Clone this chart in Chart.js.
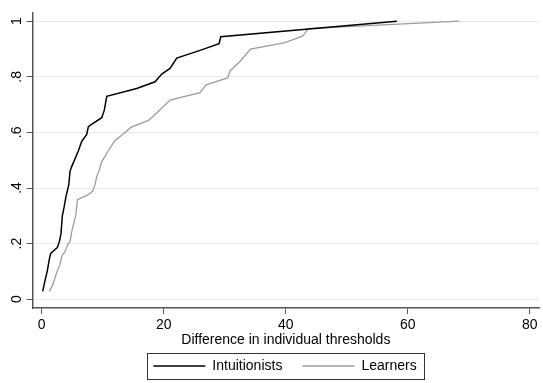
<!DOCTYPE html>
<html>
<head>
<meta charset="utf-8">
<script src="https://cdn.jsdelivr.net/npm/chart.js@4"></script>
<style>
  html, body { margin: 0; padding: 0; background: #fff; }
  canvas { display: block; }
</style>
</head>
<body>
<canvas id="cdfChart" width="543" height="383"></canvas>
<script>
// cumulative shares
const intuitX = [0.16, 0.54, 0.92, 1.25, 1.48, 2.18, 2.56, 2.89, 3.16, 3.38, 3.66, 3.98, 4.43, 4.64, 4.92, 6.0, 6.56, 7.38, 7.64, 7.92, 9.84, 10.26, 10.66, 15.57, 18.57, 19.67, 21.03, 22.13, 25.95, 29.07, 29.34, 58.2];
const intuitY = [0.028, 0.067, 0.102, 0.144, 0.165, 0.179, 0.186, 0.207, 0.235, 0.30, 0.33, 0.37, 0.41, 0.46, 0.477, 0.533, 0.568, 0.593, 0.62, 0.625, 0.653, 0.68, 0.73, 0.758, 0.782, 0.81, 0.83, 0.867, 0.895, 0.919, 0.944, 1.0];

const learnX = [1.25, 1.9, 2.18, 2.56, 3.0, 3.28, 3.82, 4.36, 4.64, 4.92, 5.3, 5.62, 5.84, 7.64, 8.36, 8.74, 9.02, 9.44, 9.84, 10.92, 11.9, 13.66, 14.59, 17.48, 18.85, 21.03, 25.95, 26.93, 30.46, 30.87, 32.51, 34.23, 39.89, 42.79, 43.7, 68.4];
const learnY = [0.028, 0.056, 0.078, 0.102, 0.126, 0.154, 0.172, 0.201, 0.207, 0.242, 0.277, 0.306, 0.358, 0.376, 0.389, 0.412, 0.442, 0.464, 0.495, 0.534, 0.568, 0.6, 0.618, 0.643, 0.67, 0.716, 0.743, 0.771, 0.796, 0.821, 0.856, 0.9, 0.923, 0.947, 0.973, 1.0];

const xTicks = [0, 20, 40, 60, 80];
const yTicks = [0, 0.2, 0.4, 0.6, 0.8, 1];
const yTickLabels = ['0', '.2', '.4', '.6', '.8', '1'];

const toPoints = (xs, ys) => xs.map((x, i) => ({ x: x, y: ys[i] }));

const font = { family: "'Liberation Sans', Arial, sans-serif", size: 14 };

// centre the legend under the plot region and draw a frame round it
const legendFrame = {
    id: 'legendFrame',
    afterLayout(chart) {
        const lg = chart.legend;
        if (!lg) return;
        lg.left = 31;
        lg.right = chart.chartArea.right;
        lg.width = lg.right - lg.left;
    },
    afterDraw(chart) {
        const boxes = chart.legend && chart.legend.legendHitBoxes;
        if (!boxes || !boxes.length) return;
        const first = boxes[0];
        const last = boxes[boxes.length - 1];
        const left = first.left - 6;
        const right = last.left + last.width + 8;
        const midY = first.top + first.height / 2;
        const ctx = chart.ctx;
        ctx.save();
        ctx.strokeStyle = '#333';
        ctx.lineWidth = 1;
        ctx.strokeRect(Math.round(left) + 0.5, Math.round(midY - 13) + 0.5, Math.round(right - left), 26);
        ctx.restore();
    }
};

const ctx = document.getElementById('cdfChart').getContext('2d');
const cdfChart = new Chart(ctx, {
    type: 'line',
    data: {
        datasets: [{
            label: 'Intuitionists',
            data: toPoints(intuitX, intuitY),
            borderColor: '#000000',
            backgroundColor: '#000000',
            borderWidth: 1.5,
            pointRadius: 0,
            tension: 0,
        }, {
            label: 'Learners',
            data: toPoints(learnX, learnY),
            borderColor: '#9c9c9c',
            backgroundColor: '#9c9c9c',
            borderWidth: 1.3,
            pointRadius: 0,
            tension: 0,
        }]
    },
    options: {
        responsive: false,
        animation: false,
        events: [],
        layout: { padding: { top: 5, left: 0, right: 4, bottom: 0 } },
        plugins: {
            legend: {
                position: 'bottom',
                labels: {
                    usePointStyle: true,
                    pointStyle: 'line',
                    pointStyleWidth: 52,
                    padding: 20,
                    color: '#000',
                    font: font,
                }
            },
            tooltip: { enabled: false },
        },
        scales: {
            x: {
                type: 'linear',
                min: -1.475,
                max: 81.5,
                afterBuildTicks: (scale) => { scale.ticks = xTicks.map(v => ({ value: v })); },
                afterFit: (scale) => { scale.height = 31; },
                grid: {
                    drawOnChartArea: false,
                    drawTicks: true,
                    tickLength: 6,
                    tickColor: '#555',
                    tickWidth: 1,
                },
                border: { display: true, color: '#555', width: 1.5 },
                ticks: { color: '#000', font: font, padding: 3, maxRotation: 0 },
                title: {
                    display: true,
                    text: 'Difference in individual thresholds',
                    color: '#000',
                    font: font,
                    padding: { top: 0, bottom: -10 },
                }
            },
            y: {
                type: 'linear',
                min: -0.0316,
                max: 1.0316,
                afterBuildTicks: (scale) => { scale.ticks = yTicks.map(v => ({ value: v })); },
                afterFit: (scale) => { scale.width = 32.7; },
                grid: {
                    color: '#e8e8e8',
                    lineWidth: 1,
                    drawTicks: true,
                    tickLength: 6,
                    tickColor: '#555',
                    tickWidth: 1,
                },
                border: { display: true, color: '#555', width: 1.5 },
                ticks: {
                    color: '#000',
                    font: font,
                    padding: 4,
                    minRotation: 90,
                    maxRotation: 90,
                    crossAlign: 'center',
                    callback: (value) => {
                        const i = yTicks.indexOf(value);
                        return i >= 0 ? yTickLabels[i] : '';
                    }
                }
            }
        }
    },
    plugins: [legendFrame]
});
</script>
</body>
</html>
